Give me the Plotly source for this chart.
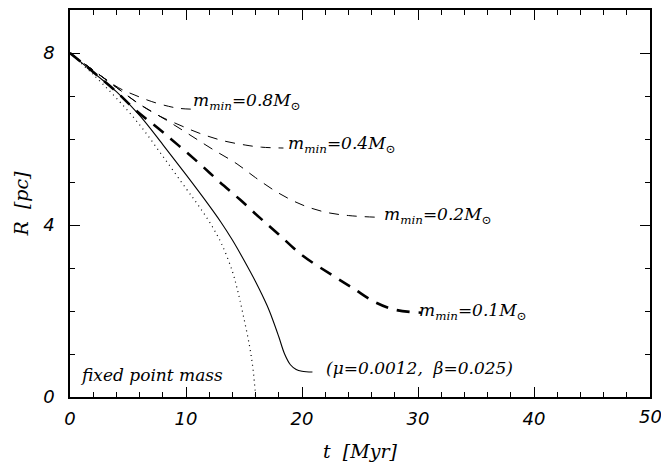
import plotly.graph_objects as go

# Data (t in Myr, R in pc)
t_point = [0, 2, 4, 6, 8, 10, 11, 12, 13, 14, 14.5, 15, 15.5, 15.8, 16.0]
R_point = [8, 7.5, 6.95, 6.33, 5.6, 4.85, 4.48, 4.08, 3.6, 2.92, 2.42, 1.82, 1.15, 0.6, 0.0]

t_solid = [0, 2, 4, 6, 8, 10, 12, 13, 14, 15, 16, 17, 17.5, 18, 18.5, 19, 19.5, 20, 20.9]
R_solid = [8, 7.55, 7.1, 6.55, 5.87, 5.17, 4.45, 4.07, 3.65, 3.18, 2.68, 2.12, 1.78, 1.4, 1.0, 0.75, 0.64, 0.6, 0.58]

t_01 = [0, 2, 4, 5.7, 7.6, 9.4, 11.2, 12.9, 14.7, 16.4, 18, 20, 22.5, 24.4, 26.2, 28, 30.3]
R_01 = [8, 7.56, 7.1, 6.66, 6.25, 5.84, 5.42, 5.0, 4.58, 4.16, 3.78, 3.3, 2.85, 2.53, 2.22, 2.03, 1.96]

t_02 = [0, 2, 4, 5.7, 7.3, 8.9, 10.6, 12.3, 14.4, 16, 18, 20, 22, 24, 26.5]
R_02 = [8, 7.6, 7.2, 6.86, 6.6, 6.34, 6.05, 5.76, 5.42, 5.1, 4.74, 4.47, 4.3, 4.22, 4.18]

t_04 = [0, 2, 4, 6.1, 7.6, 9.4, 11.2, 13.2, 15.1, 16.5, 18.4]
R_04 = [8, 7.6, 7.2, 6.79, 6.55, 6.33, 6.13, 5.96, 5.86, 5.81, 5.79]

t_08 = [0, 2, 4.2, 5.6, 7.05, 8.5, 9.5, 11.05]
R_08 = [8, 7.6, 7.19, 7.02, 6.87, 6.76, 6.71, 6.69]

x_ticks = [0, 10, 20, 30, 40, 50]
y_ticks = [0, 4, 8]

FONT = "DejaVu Serif"
TICKFONT = dict(family="DejaVu Sans", size=18, color="black", style="italic")
fig = go.Figure()

def add(t, r, width, dash):
    fig.add_trace(go.Scatter(x=t, y=r, mode="lines",
                             line=dict(color="black", width=width, dash=dash, shape="spline", smoothing=1.0),
                             showlegend=False, hoverinfo="skip"))

add(t_point, R_point, 1.2, "1px,4px")
add(t_solid, R_solid, 1.1, "solid")
add(t_01, R_01, 2.6, "13px,9px")
add(t_02, R_02, 1.0, "10px,8px")
add(t_04, R_04, 1.0, "10px,8px")
add(t_08, R_08, 1.0, "10px,8px")

def lab(x, y, text):
    fig.add_annotation(x=x, y=y, text=text, showarrow=False, xanchor="left", yanchor="middle",
                       font=dict(family=FONT, size=17, color="black", style="italic"))

def mlab(v):
    return "m<sub>min</sub>=" + v + "M<sub>⊙</sub>"

lab(10.4, 6.88, mlab("0.8"))
lab(18.6, 5.88, mlab("0.4"))
lab(26.9, 4.22, mlab("0.2"))
lab(29.9, 1.98, mlab("0.1"))
lab(21.9, 0.68, "(μ=0.0012,  β=0.025)")
lab(0.7, 0.52, "fixed point mass")

# last x tick label sits at the page edge; draw it as an annotation so it is not dropped
fig.add_annotation(x=x_ticks[-1], y=0, xref="x", yref="paper", text=str(x_ticks[-1]), showarrow=False,
                   xanchor="center", yanchor="top", yshift=-7, font=TICKFONT)

axis_common = dict(showgrid=False, zeroline=False, showline=True, linecolor="black", linewidth=1.5,
                   mirror="allticks", ticks="inside", ticklen=10, tickwidth=1.2, tickcolor="black",
                   automargin=False, tickfont=TICKFONT)

fig.update_xaxes(range=[0, 50], tickvals=x_ticks, ticktext=[str(v) for v in x_ticks[:-1]] + [""],
                 ticklabelstandoff=5,
                 minor=dict(dtick=2, tick0=0, ticks="inside", ticklen=5, tickwidth=1, tickcolor="black"),
                 title=dict(text="t  [Myr]", font=dict(family=FONT, size=19, color="black", style="italic"), standoff=16),
                 **axis_common)
fig.update_yaxes(range=[0, 9], tickvals=y_ticks, ticktext=[str(v) for v in y_ticks],
                 ticklabelstandoff=10,
                 minor=dict(dtick=1, tick0=0, ticks="inside", ticklen=5, tickwidth=1, tickcolor="black"),
                 title=dict(text="R  [pc]", font=dict(family=FONT, size=19, color="black", style="italic"), standoff=10),
                 **axis_common)

fig.update_layout(width=661, height=472, margin=dict(l=70, r=11, t=10, b=75),
                  paper_bgcolor="white", plot_bgcolor="white")

fig.write_html("out.html")
